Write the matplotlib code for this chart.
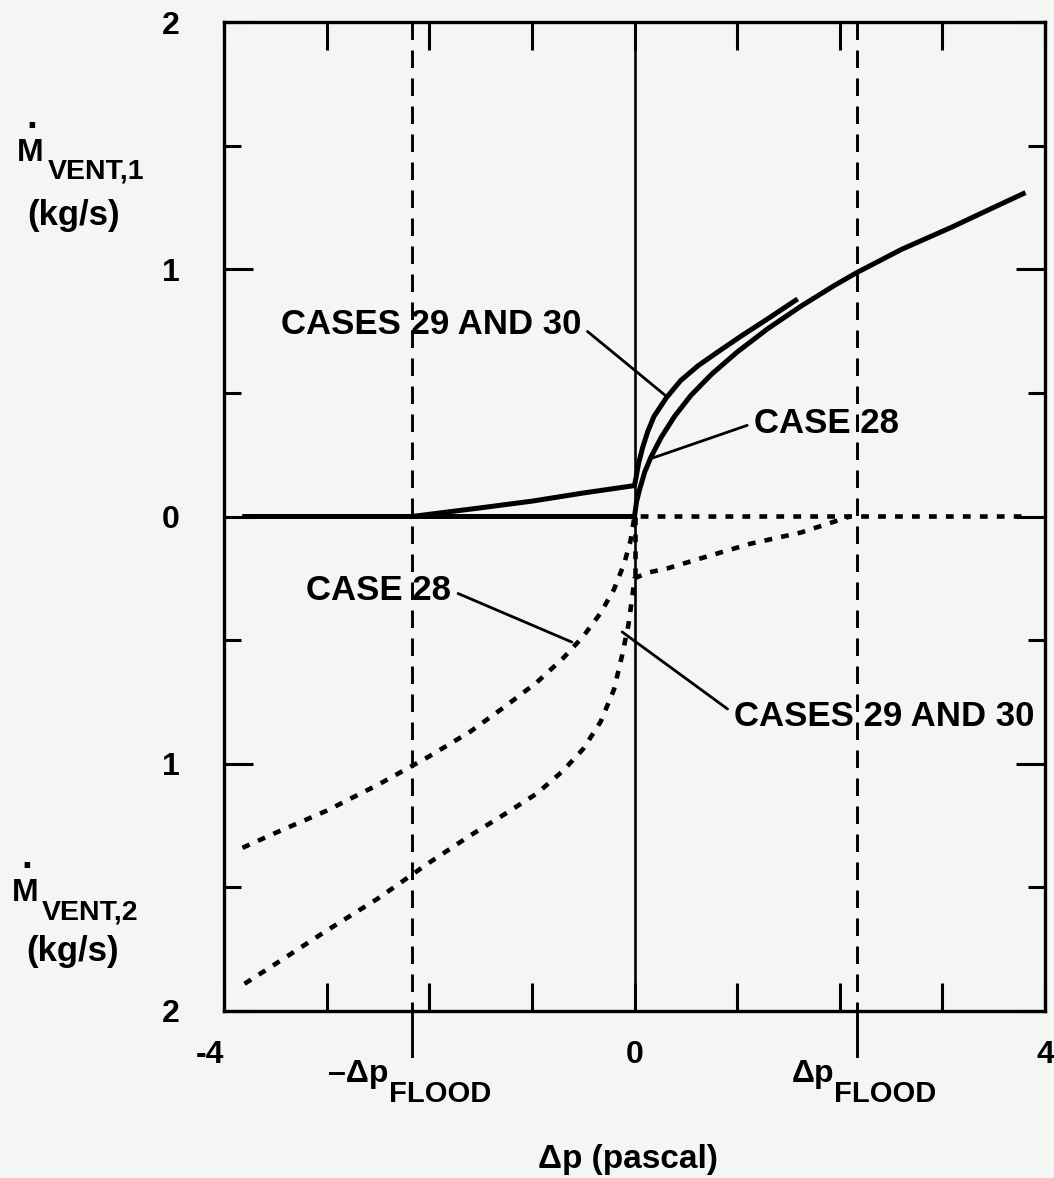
import numpy as np
import matplotlib.pyplot as plt

plt.rcParams['font.family'] = ['Liberation Sans', 'DejaVu Sans']
plt.rcParams['font.weight'] = 'bold'

# pressure difference across the vent (Pa) and flood limit
flood_dp = 2.17

# M_VENT,1 (upper half, kg/s)
case28_v1_x = [-3.82, 0.0, 0.02, 0.05, 0.10, 0.16, 0.26, 0.39, 0.55, 0.75, 1.00,
               1.30, 1.62, 1.95, 2.16, 2.60, 3.09, 3.50, 3.81]
case28_v1_y = [0.0, 0.0, 0.06, 0.11, 0.18, 0.24, 0.32, 0.405, 0.49, 0.575, 0.665,
               0.76, 0.85, 0.935, 0.985, 1.08, 1.17, 1.25, 1.31]
case2930_v1_x = [-3.82, -2.17, -1.5, -1.0, -0.5, 0.0, 0.016, 0.04, 0.08, 0.13,
                 0.19, 0.31, 0.45, 0.62, 0.81, 1.04, 1.30, 1.59]
case2930_v1_y = [0.0, 0.0, 0.035, 0.062, 0.095, 0.125, 0.16, 0.215, 0.28, 0.345,
                 0.405, 0.48, 0.55, 0.61, 0.665, 0.73, 0.80, 0.88]

# M_VENT,2 (lower half, drawn downward, kg/s)
case28_v2_x = [-3.82, -3.50, -3.00, -2.50, -2.00, -1.60, -1.25, -0.95, -0.70,
               -0.50, -0.33, -0.20, -0.10, -0.04, 0.0, 3.85]
case28_v2_y = [-1.34, -1.28, -1.19, -1.085, -0.97, -0.87, -0.765, -0.67, -0.575,
               -0.485, -0.39, -0.295, -0.19, -0.10, 0.0, 0.0]
case2930_v2_x = [-3.80, -3.50, -3.00, -2.50, -2.00, -1.60, -1.25, -0.95, -0.70,
                 -0.50, -0.33, -0.20, -0.12, -0.06, -0.02, 0.0,
                 0.13, 0.32, 0.64, 1.13, 1.62, 2.10]
case2930_v2_y = [-1.89, -1.81, -1.675, -1.545, -1.40, -1.29, -1.20, -1.12, -1.03,
                 -0.94, -0.83, -0.70, -0.56, -0.44, -0.32, -0.25,
                 -0.227, -0.21, -0.17, -0.11, -0.065, 0.0]
case2930_jump_x = [0.0, 0.0]
case2930_jump_y = [0.0, -0.25]

x_ticks = [-4, -3, -2, -1, 0, 1, 2, 3, 4]
x_tick_labels = ['-4', '', '', '', '0', '', '', '', '4']
y_ticks = [-2, -1, 0, 1, 2]
y_tick_labels = ['2', '1', '0', '1', '2']
y_minor = [-1.5, -0.5, 0.5, 1.5]

bg = '#f5f6f3'
W, H = 1054, 1178
fig = plt.figure(figsize=(W / 100, H / 100), dpi=100, facecolor=bg)
ax = fig.add_axes([224 / W, 167 / H, 821 / W, 989 / H], facecolor=bg)
ax.set_xlim(-4, 4)
ax.set_ylim(-2, 2)

dots = (0, (1.7, 2.0))

# reference lines
ax.axvline(0, color='k', lw=1.9)
ax.hlines(0, -4, 0, color='k', lw=1.9)
for xf in (-flood_dp, flood_dp):
    ax.plot([xf, xf], [2, -2], color='k', lw=2.1, ls=(0, (6, 3.6)))
    ax.plot([xf, xf], [-2, -2.18], color='k', lw=2.1, clip_on=False)

# curves
ax.plot(case28_v1_x, case28_v1_y, color='k', lw=3.6, solid_capstyle='butt')
ax.plot(case2930_v1_x, case2930_v1_y, color='k', lw=3.6, solid_capstyle='butt')
ax.plot(case28_v2_x, case28_v2_y, color='k', lw=3.3, ls=dots)
ax.plot(case2930_v2_x, case2930_v2_y, color='k', lw=3.3, ls=dots)
ax.plot(case2930_jump_x, case2930_jump_y, color='k', lw=3.3, ls=dots)

# axes styling
for s in ax.spines.values():
    s.set_linewidth(2.4)
ax.set_xticks(x_ticks)
ax.set_xticklabels(x_tick_labels)
ax.set_yticks(y_ticks)
ax.set_yticklabels(y_tick_labels)
ax.set_yticks(y_minor, minor=True)
ax.tick_params(which='both', direction='in', top=True, right=True, width=2.2)
ax.tick_params(axis='x', length=20, pad=21, labelsize=23)
ax.tick_params(axis='y', which='major', length=21, pad=32, labelsize=23)
ax.tick_params(axis='y', which='minor', length=12)
ax.get_xticklabels()[0].set_horizontalalignment('right')

# flood labels under the dashed lines
for xf, main in ((-flood_dp, '\u2013\u0394p'), (flood_dp, '\u0394p')):
    ax.annotate(main, xy=(xf, 0), xycoords=('data', 'axes fraction'),
                xytext=(-16.5, -51), textcoords='offset points',
                ha='right', va='baseline', fontsize=23)
    ax.annotate('FLOOD', xy=(xf, 0), xycoords=('data', 'axes fraction'),
                xytext=(-16.5, -65.5), textcoords='offset points',
                ha='left', va='baseline', fontsize=21)

# case labels with leaders
lead = dict(arrowstyle='-', color='k', lw=2.0, shrinkA=3, shrinkB=0)
ax.annotate('CASES 29 AND 30', xy=(0.32, 0.483), xytext=(-1.98, 0.775),
            ha='center', va='center', fontsize=25,
            arrowprops=dict(lead, relpos=(1, 0.45)))
ax.annotate('CASE 28', xy=(0.18, 0.237), xytext=(1.87, 0.378),
            ha='center', va='center', fontsize=25,
            arrowprops=dict(lead, relpos=(0, 0.5)))
ax.annotate('CASE 28', xy=(-0.61, -0.508), xytext=(-2.49, -0.30),
            ha='center', va='center', fontsize=25,
            arrowprops=dict(lead, relpos=(1, 0.5)))
ax.annotate('CASES 29 AND 30', xy=(-0.12, -0.467), xytext=(2.43, -0.81),
            ha='center', va='center', fontsize=25,
            arrowprops=dict(lead, relpos=(0, 0.6)))

# axis titles
def ftext(px, py, s, **kw):
    fig.text(px / W, 1 - py / H, s, **kw)

ftext(17, 161, 'M', ha='left', va='baseline', fontsize=23)
ftext(32, 128, '.', ha='center', va='baseline', fontsize=28)
ftext(48, 179, 'VENT,1', ha='left', va='baseline', fontsize=20.5)
ftext(74, 225, '(kg/s)', ha='center', va='baseline', fontsize=25)

ftext(12, 901, 'M', ha='left', va='baseline', fontsize=23)
ftext(27, 868, '.', ha='center', va='baseline', fontsize=28)
ftext(42, 919, 'VENT,2', ha='left', va='baseline', fontsize=20.5)
ftext(73, 961, '(kg/s)', ha='center', va='baseline', fontsize=25)

ftext(628, 1168, '\u0394p (pascal)', ha='center', va='baseline', fontsize=24)

fig.savefig('out.png', dpi=100, facecolor=bg)
